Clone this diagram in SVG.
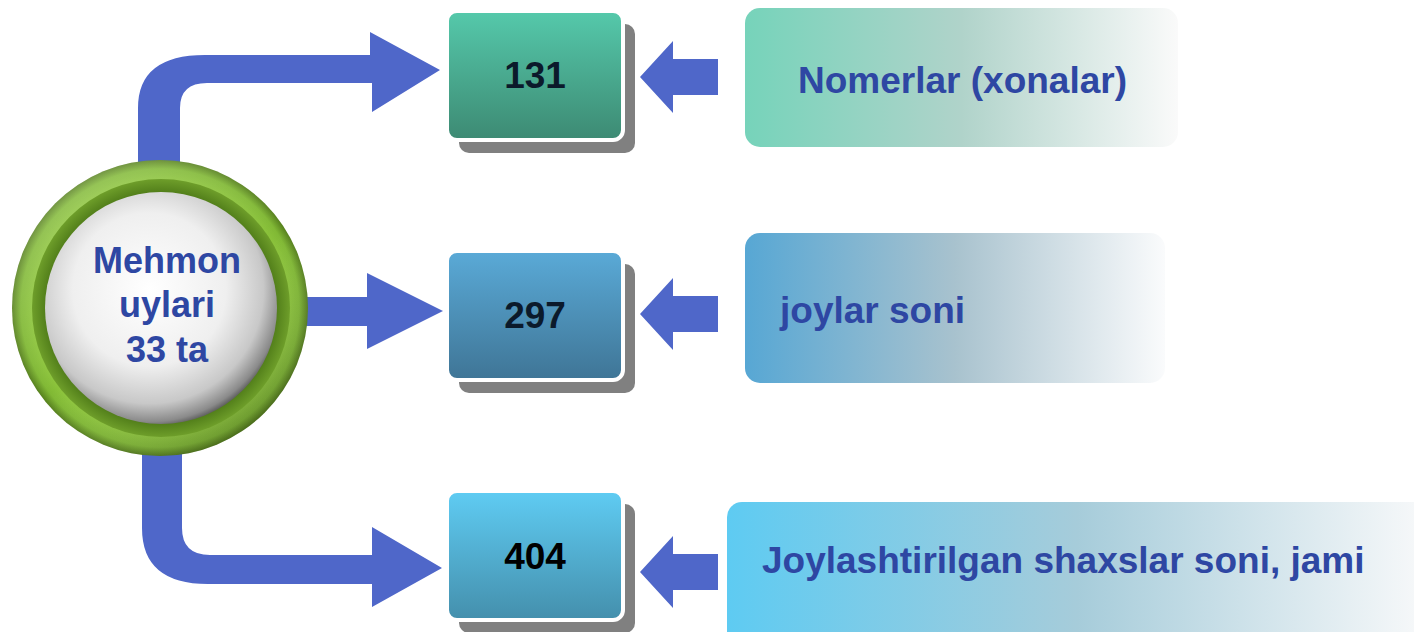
<svg xmlns="http://www.w3.org/2000/svg" width="1414" height="632" viewBox="0 0 1414 632">
<defs>
<style>
.arrow{fill:#4F67C9;}
.shadow{fill:#808080;}
.box{stroke:#FFFFFF;stroke-width:4;}
.num{font-family:"Liberation Sans",Arial,sans-serif;font-weight:bold;font-size:37px;fill:#0B1A2B;text-anchor:middle;}
.lbl{font-family:"Liberation Sans",Arial,sans-serif;font-weight:bold;font-size:37px;fill:#2E47A3;}
.ctr{font-family:"Liberation Sans",Arial,sans-serif;font-weight:bold;font-size:36px;fill:#2E47A3;text-anchor:middle;}
</style>
<linearGradient id="g1" x1="0" y1="0" x2="0" y2="1"><stop offset="0" stop-color="#55C9AB"/><stop offset="1" stop-color="#3D8A73"/></linearGradient>
<linearGradient id="g2" x1="0" y1="0" x2="0" y2="1"><stop offset="0" stop-color="#5AAAD7"/><stop offset="1" stop-color="#3F7596"/></linearGradient>
<linearGradient id="g3" x1="0" y1="0" x2="0" y2="1"><stop offset="0" stop-color="#5FCCF3"/><stop offset="1" stop-color="#448FAC"/></linearGradient>
<linearGradient id="l1" x1="0" y1="0" x2="1" y2="0"><stop offset="0" stop-color="#76D3BA"/><stop offset="0.5" stop-color="#B0D3CA"/><stop offset="1" stop-color="#FAFAFA"/></linearGradient>
<linearGradient id="l2" x1="0" y1="0" x2="1" y2="0"><stop offset="0" stop-color="#57A7D4"/><stop offset="0.5" stop-color="#A8C2CE"/><stop offset="1" stop-color="#FAFBFC"/></linearGradient>
<linearGradient id="l3" x1="0" y1="0" x2="1" y2="0"><stop offset="0" stop-color="#5ECBF2"/><stop offset="0.5" stop-color="#A6CCDA"/><stop offset="1" stop-color="#F8F9FA"/></linearGradient>
<radialGradient id="ring" cx="0.5" cy="0.5" r="0.5"><stop offset="0.86" stop-color="#8DC53C"/><stop offset="0.94" stop-color="#80B834"/><stop offset="1" stop-color="#557F1C"/></radialGradient>
<linearGradient id="ringShade" x1="0.2" y1="0.1" x2="0.8" y2="0.95"><stop offset="0" stop-color="#FFFFFF" stop-opacity="0.18"/><stop offset="0.5" stop-color="#FFFFFF" stop-opacity="0"/><stop offset="1" stop-color="#000000" stop-opacity="0.2"/></linearGradient>
<radialGradient id="groove" cx="0.5" cy="0.5" r="0.5"><stop offset="0.88" stop-color="#4E7A18"/><stop offset="1" stop-color="#6E9E2A"/></radialGradient>
<radialGradient id="sphere" cx="0.45" cy="0.42" r="0.6"><stop offset="0" stop-color="#FFFFFF"/><stop offset="0.55" stop-color="#EFEFEF"/><stop offset="0.82" stop-color="#C8C8C8"/><stop offset="0.95" stop-color="#8A8A8A"/><stop offset="1" stop-color="#555555"/></radialGradient>
</defs>
<rect width="1414" height="632" fill="#FFFFFF"/>
<g id="connectors">
<path class="arrow" d="M138,175 L138,108 Q138,55 205,55 L370,55 L370,32 L440,70 L372,112 L372,83 L207,83 Q180,83 180,108 L180,175 Z"/>
<path class="arrow" d="M285,297 L367,297 L367,273 L443,311 L367,349 L367,326 L285,326 Z"/>
<path class="arrow" d="M142,440 L142,528 Q142,584 208,584 L372,584 L372,607 L442,568 L372,527 L372,555 L210,555 Q182,555 182,528 L182,440 Z"/>
<path class="arrow" d="M640,77 L673,41 L673,59 L718,59 L718,95 L673,95 L673,113 Z"/>
<path class="arrow" d="M640,314 L673,278 L673,296 L718,296 L718,332 L673,332 L673,350 Z"/>
<path class="arrow" d="M640,572 L673,536 L673,554 L718,554 L718,590 L673,590 L673,608 Z"/>
</g>
<g id="center">
<circle cx="160" cy="308" r="148" fill="url(#ring)"/>
<circle cx="160" cy="308" r="148" fill="url(#ringShade)"/>
<circle cx="161" cy="308" r="129" fill="url(#groove)"/>
<circle cx="161" cy="308" r="116" fill="url(#sphere)"/>
<text class="ctr" x="167" y="273">Mehmon</text>
<text class="ctr" x="167" y="317">uylari</text>
<text class="ctr" x="167" y="362">33 ta</text>
</g>
<g id="box131">
<rect class="shadow" x="459" y="24" width="176" height="129" rx="10"/>
<rect class="box" x="447" y="11" width="176" height="129" rx="10" fill="url(#g1)"/>
<text class="num" x="535" y="88">131</text>
</g>
<g id="box297">
<rect class="shadow" x="459" y="264" width="176" height="129" rx="10"/>
<rect class="box" x="447" y="251" width="176" height="129" rx="10" fill="url(#g2)"/>
<text class="num" x="535" y="328">297</text>
</g>
<g id="box404">
<rect class="shadow" x="459" y="504" width="176" height="129" rx="10"/>
<rect class="box" x="447" y="491" width="176" height="129" rx="10" fill="url(#g3)"/>
<text class="num" x="535" y="569" style="fill:#000000">404</text>
</g>
<g id="label1">
<rect x="745" y="8" width="433" height="139" rx="15" fill="url(#l1)"/>
<text class="lbl" x="798" y="93">Nomerlar (xonalar)</text>
</g>
<g id="label2">
<rect x="745" y="233" width="420" height="150" rx="15" fill="url(#l2)"/>
<text class="lbl" x="780" y="323">joylar soni</text>
</g>
<g id="label3">
<rect x="727" y="502" width="700" height="150" rx="15" fill="url(#l3)"/>
<text class="lbl" x="762" y="573">Joylashtirilgan shaxslar soni, jami</text>
</g>
</svg>
